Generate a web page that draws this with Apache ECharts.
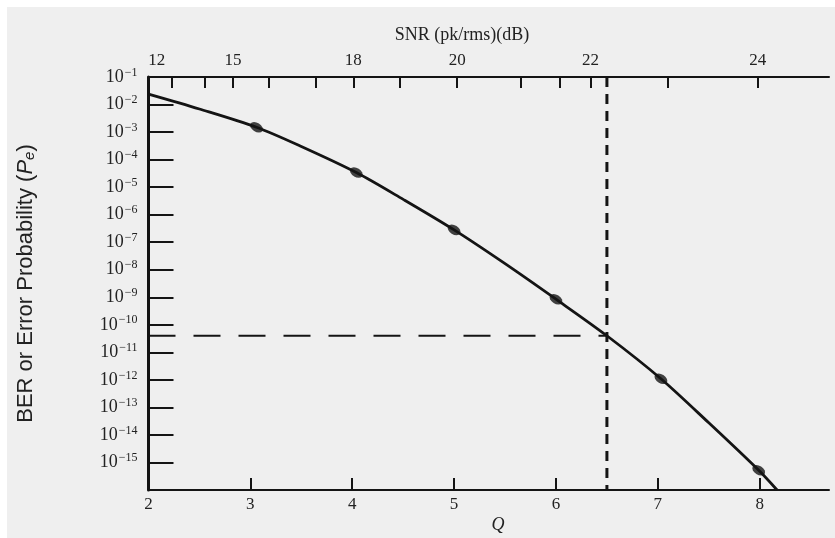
<!DOCTYPE html>
<html><head><meta charset="utf-8">
<script src="https://cdn.jsdelivr.net/npm/echarts@6/dist/echarts.min.js"></script>
<style>html,body{margin:0;padding:0;background:#fff;}#c{position:absolute;left:7px;top:7px;width:828px;height:531px;background:#efefef;}</style>
</head><body><div id="c"></div><script>
// Bottom axis (Q)
const qTicks = [3, 4, 5, 6, 7, 8];
const qLabels = [2, 3, 4, 5, 6, 7, 8];
// Left axis (BER exponents)
const berLabelExp = [-1, -2, -3, -4, -5, -6, -7, -8, -9, -10, -11, -12, -13, -14, -15];
const berTickExp = [-2, -3, -4, -5, -6, -7, -8, -9, -10, -11, -12, -13, -14, -15];
// Top axis (SNR dB) tick positions read in Q units
const snrTickQ = [2.23, 2.55, 2.83, 3.18, 3.64, 4.01, 4.47, 5.03, 5.65, 6.04, 6.34, 7.10, 7.98];
const snrLabels = ['12', '15', '18', '20', '22', '24'];
const snrLabelQ = [2.08, 2.83, 4.01, 5.03, 6.34, 7.98];
// Curve
const curveQ =   [2.0,    2.5,    3.06,   3.5,    4.04,   4.5,    5.0,    5.5,     6.0,     6.5,     7.03,    7.5,     7.99,    8.17];
const curveBER = [2.4e-2, 6.9e-3, 1.5e-3, 3.0e-4, 3.4e-5, 3.6e-6, 2.8e-7, 1.66e-8, 8.5e-10, 4.0e-11, 1.1e-12, 2.75e-14, 5.2e-16, 1.0e-16];
// Markers
const markerQ =   [3.06,   4.04,   5.0,    6.0,     7.03,    7.99];
const markerBER = [1.5e-3, 3.4e-5, 2.8e-7, 8.5e-10, 1.1e-12, 5.2e-16];
// Reference (dashed) point
const refQ = 6.5;
const refBER = 4.0e-11;
const berMin = 1e-16, berMax = 1e-1;
const qMin = 2, qMax = 8.68;

const chart = echarts.init(document.getElementById('c'));
const serif = 'Liberation Serif, DejaVu Serif, serif';
const sans = 'Liberation Sans, DejaVu Sans, sans-serif';
const ink = '#141414';

chart.setOption({
  animation: false,
  backgroundColor: '#efefef',
  grid: { left: 136, right: 6, top: 70, bottom: 48, containLabel: false },
  xAxis: [
    {
      type: 'value', min: qMin, max: qMax, position: 'bottom',
      axisLine: { show: true, onZero: false, lineStyle: { color: ink, width: 2 } },
      axisTick: { show: true, inside: true, length: 12, lineStyle: { color: ink, width: 2 }, customValues: qTicks },
      axisLabel: { customValues: qLabels, margin: 6, color: '#222', fontFamily: serif, fontSize: 17 },
      splitLine: { show: false }
    },
    {
      type: 'value', min: qMin, max: qMax, position: 'top',
      axisLine: { show: true, onZero: false, lineStyle: { color: ink, width: 2 } },
      axisTick: { show: true, inside: true, length: 11, lineStyle: { color: ink, width: 2 }, customValues: snrTickQ },
      axisLabel: {
        customValues: snrLabelQ, margin: 8, color: '#222', fontFamily: serif, fontSize: 17,
        formatter: v => { const i = snrLabelQ.findIndex(q => Math.abs(q - v) < 1e-6); return i >= 0 ? snrLabels[i] : ''; }
      },
      splitLine: { show: false }
    }
  ],
  yAxis: {
    type: 'log', logBase: 10, min: berMin, max: berMax,
    name: '{n|BER or Error Probability (}{i|P}{sub|e}{n|)}',
    nameLocation: 'middle', nameRotate: 90, nameGap: 111,
    nameTextStyle: {
      rich: {
        n: { fontFamily: sans, fontSize: 22, color: '#222' },
        i: { fontFamily: sans, fontSize: 22, fontStyle: 'italic', color: '#222' },
        sub: { fontFamily: sans, fontSize: 15, fontStyle: 'italic', color: '#222', padding: [8, 0, 0, 0] }
      }
    },
    axisLine: { show: true, onZero: false, lineStyle: { color: ink, width: 3 } },
    axisTick: { show: true, inside: true, length: 25, lineStyle: { color: ink, width: 2 }, customValues: berTickExp.map(e => Math.pow(10, e)) },
    axisLabel: {
      customValues: berLabelExp.map(e => Math.pow(10, e)), margin: 11,
      formatter: v => '{b|10}{s|\u2212' + (-Math.round(Math.log10(v))) + '}',
      rich: {
        b: { fontFamily: serif, fontSize: 18, color: '#222' },
        s: { fontFamily: serif, fontSize: 12, color: '#222', padding: [0, 0, 9, 1] }
      }
    },
    splitLine: { show: false }
  },
  graphic: [
    { type: 'text', x: 455, y: 28, style: { text: 'SNR (pk/rms)(dB)', font: '18px ' + serif, fill: '#222', textAlign: 'center', textVerticalAlign: 'middle' } },
    { type: 'text', x: 491, y: 518, style: { text: 'Q', font: 'italic 18px ' + serif, fill: '#222', textAlign: 'center', textVerticalAlign: 'middle' } }
  ],
  series: [
    {
      type: 'line', xAxisIndex: 0, data: curveQ.map((q, i) => [q, curveBER[i]]),
      showSymbol: false, smooth: 0.3, lineStyle: { color: ink, width: 2.8 }, z: 4
    },
    {
      type: 'scatter', xAxisIndex: 0, data: markerQ.map((q, i) => [q, markerBER[i]]),
      symbol: 'circle', symbolSize: [14, 9], symbolRotate: -32, itemStyle: { color: ink }, z: 5
    },
    {
      type: 'line', xAxisIndex: 0, data: [[qMin, refBER], [refQ, refBER]],
      showSymbol: false, lineStyle: { color: ink, width: 2, type: [27, 18] }, z: 3
    },
    {
      type: 'line', xAxisIndex: 0, data: [[refQ, berMax], [refQ, berMin]],
      showSymbol: false, lineStyle: { color: ink, width: 3, type: [10, 7] }, z: 3
    }
  ]
});
</script></body></html>
